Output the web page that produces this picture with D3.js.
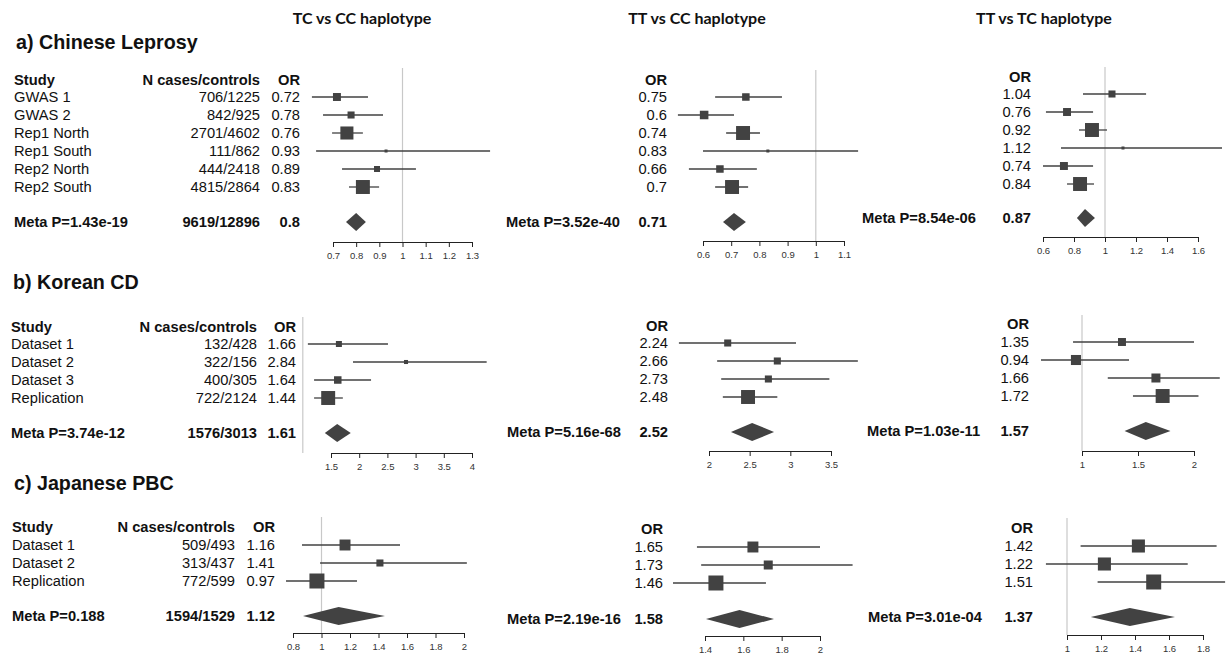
<!DOCTYPE html>
<html>
<head>
<meta charset="utf-8">
<script src="https://cdn.jsdelivr.net/npm/d3@7"></script>
<style>
  body { margin: 0; background: #fff; }
  svg text { font-family: "Liberation Sans", Arial, sans-serif; fill: #111; }
  .col-title { font-family: Lato, "Open Sans", sans-serif; font-weight: bold; font-size: 16px; }
  .sec-title { font-weight: bold; font-size: 19.7px; }
  .tbl { font-size: 14.7px; }
  .bold { font-weight: bold; }
  .axis text { font-family: "Liberation Sans", Arial, sans-serif; font-size: 9.5px; fill: #333; }
  .axis path, .axis line { stroke: #222; }
</style>
</head>
<body>
<div id="chart"></div>
<script>
// Forest plots: three cohorts x three haplotype comparisons
const comparisons = ['TC vs CC haplotype', 'TT vs CC haplotype', 'TT vs TC haplotype'];

// a) Chinese leprosy
const leprosyStudies = ['GWAS 1', 'GWAS 2', 'Rep1 North', 'Rep1 South', 'Rep2 North', 'Rep2 South'];
const leprosyN = ['706/1225', '842/925', '2701/4602', '111/862', '444/2418', '4815/2864'];
const leprosyMetaN = '9619/12896';
const leprosyOR = [['0.72', '0.78', '0.76', '0.93', '0.89', '0.83'],
                   ['0.75', '0.6', '0.74', '0.83', '0.66', '0.7'],
                   ['1.04', '0.76', '0.92', '1.12', '0.74', '0.84']];
const leprosyEst = [[0.717, 0.778, 0.760, 0.929, 0.890, 0.829],
                    [0.752, 0.604, 0.742, 0.830, 0.660, 0.703],
                    [1.045, 0.755, 0.916, 1.116, 0.735, 0.839]];
const leprosyLo = [[0.609, 0.657, 0.696, 0.627, 0.739, 0.769],
                   [0.643, 0.511, 0.682, 0.600, 0.550, 0.643],
                   [0.858, 0.619, 0.832, 0.716, 0.600, 0.755]];
const leprosyHi = [[0.851, 0.916, 0.829, 1.378, 1.058, 0.899],
                   [0.880, 0.710, 0.802, 1.150, 0.791, 0.760],
                   [1.265, 0.923, 1.013, 1.755, 0.923, 0.929]];
const leprosyWeight = [[0.53, 0.47, 0.87, 0.2, 0.4, 0.93],
                       [0.5, 0.57, 0.93, 0.2, 0.5, 0.93],
                       [0.47, 0.53, 0.93, 0.2, 0.53, 0.93]];
const leprosyMetaP = ['1.43e-19', '3.52e-40', '8.54e-06'];
const leprosyMetaOR = ['0.8', '0.71', '0.87'];
const leprosyMetaEst = [0.80, 0.71, 0.871];
const leprosyMetaLo = [0.756, 0.671, 0.819];
const leprosyMetaHi = [0.842, 0.752, 0.935];
const leprosyTicks = [[0.7, 0.8, 0.9, 1, 1.1, 1.2, 1.3], [0.6, 0.7, 0.8, 0.9, 1, 1.1], [0.6, 0.8, 1, 1.2, 1.4, 1.6]];

// b) Korean CD
const crohnStudies = ['Dataset 1', 'Dataset 2', 'Dataset 3', 'Replication'];
const crohnN = ['132/428', '322/156', '400/305', '722/2124'];
const crohnMetaN = '1576/3013';
const crohnOR = [['1.66', '2.84', '1.64', '1.44'],
                 ['2.24', '2.66', '2.73', '2.48'],
                 ['1.35', '0.94', '1.66', '1.72']];
const crohnEst = [[1.64, 2.83, 1.62, 1.45], [2.23, 2.84, 2.73, 2.48], [1.357, 0.946, 1.66, 1.72]];
const crohnLo = [[1.09, 1.89, 1.20, 1.20], [1.63, 2.10, 2.15, 2.17], [0.92, 0.634, 1.23, 1.455]];
const crohnHi = [[2.51, 4.26, 2.21, 1.71], [3.07, 3.83, 3.48, 2.84], [2.0, 1.42, 2.23, 2.04]];
const crohnWeight = [[0.4, 0.27, 0.5, 0.93], [0.47, 0.47, 0.47, 0.93], [0.53, 0.67, 0.6, 0.93]];
const crohnMetaP = ['3.74e-12', '5.16e-68', '1.03e-11'];
const crohnMetaOR = ['1.61', '2.52', '1.57'];
const crohnMetaEst = [1.61, 2.53, 1.57];
const crohnMetaLo = [1.39, 2.27, 1.38];
const crohnMetaHi = [1.85, 2.80, 1.79];
const crohnTicks = [[1.5, 2, 2.5, 3, 3.5, 4], [2, 2.5, 3, 3.5], [1, 1.5, 2]];

// c) Japanese PBC
const pbcStudies = ['Dataset 1', 'Dataset 2', 'Replication'];
const pbcN = ['509/493', '313/437', '772/599'];
const pbcMetaN = '1594/1529';
const pbcOR = [['1.16', '1.41', '0.97'], ['1.65', '1.73', '1.46'], ['1.42', '1.22', '1.51']];
const pbcEst = [[1.165, 1.41, 0.968], [1.65, 1.73, 1.457], [1.42, 1.22, 1.51]];
const pbcLo = [[0.863, 0.99, 0.751], [1.358, 1.38, 1.233], [1.08, 0.876, 1.18]];
const pbcHi = [[1.551, 2.02, 1.249], [2.0, 2.17, 1.718], [1.88, 1.71, 1.93]];
const pbcWeight = [[0.73, 0.47, 1.0], [0.73, 0.6, 1.0], [0.87, 0.87, 1.0]];
const pbcMetaP = ['0.188', '2.19e-16', '3.01e-04'];
const pbcMetaOR = ['1.12', '1.58', '1.37'];
const pbcMetaEst = [1.12, 1.58, 1.37];
const pbcMetaLo = [0.87, 1.405, 1.14];
const pbcMetaHi = [1.445, 1.76, 1.635];
const pbcTicks = [[0.8, 1, 1.2, 1.4, 1.6, 1.8, 2], [1.4, 1.6, 1.8, 2], [1, 1.2, 1.4, 1.6, 1.8]];

// Layout (pixel positions of each block)
const W = 1226, H = 656;
const rowStep = 18;
const markColor = '#424242';
const titleX = [362, 697, 1044];

const sections = [
    {
        title: 'a) Chinese Leprosy', titleY: 49, studyX: 14, nRight: 260,
        orRight: [300, 667, 1031], metaLeft: [14, 506, 862],
        studies: leprosyStudies, n: leprosyN, metaN: leprosyMetaN, or: leprosyOR,
        est: leprosyEst, lo: leprosyLo, hi: leprosyHi, weight: leprosyWeight,
        metaP: leprosyMetaP, metaOR: leprosyMetaOR, metaEst: leprosyMetaEst,
        metaLo: leprosyMetaLo, metaHi: leprosyMetaHi, ticks: leprosyTicks,
        cols: [
            { range: [333, 472], header: 80, row0: 97, meta: 222, axis: 242, refTop: 68 },
            { range: [703, 844], header: 80, row0: 97, meta: 222, axis: 241, refTop: 70 },
            { range: [1043, 1198], header: 77, row0: 94, meta: 218, axis: 237, refTop: 67 }
        ]
    },
    {
        title: 'b) Korean CD', titleY: 289, studyX: 11, nRight: 257,
        orRight: [296, 668, 1029], metaLeft: [11, 507, 867],
        studies: crohnStudies, n: crohnN, metaN: crohnMetaN, or: crohnOR,
        est: crohnEst, lo: crohnLo, hi: crohnHi, weight: crohnWeight,
        metaP: crohnMetaP, metaOR: crohnMetaOR, metaEst: crohnMetaEst,
        metaLo: crohnMetaLo, metaHi: crohnMetaHi, ticks: crohnTicks,
        cols: [
            { range: [331, 472], header: 327, row0: 344, meta: 433, axis: 453, refTop: 317 },
            { range: [709, 831], header: 326, row0: 343, meta: 432, axis: 451, refTop: null },
            { range: [1082, 1194], header: 324, row0: 342, meta: 431, axis: 451, refTop: 315 }
        ]
    },
    {
        title: 'c) Japanese PBC', titleY: 490, studyX: 12, nRight: 235,
        orRight: [275, 663, 1033], metaLeft: [12, 507, 868],
        studies: pbcStudies, n: pbcN, metaN: pbcMetaN, or: pbcOR,
        est: pbcEst, lo: pbcLo, hi: pbcHi, weight: pbcWeight,
        metaP: pbcMetaP, metaOR: pbcMetaOR, metaEst: pbcMetaEst,
        metaLo: pbcMetaLo, metaHi: pbcMetaHi, ticks: pbcTicks,
        cols: [
            { range: [293, 464], header: 527, row0: 545, meta: 616, axis: 633, refTop: 517 },
            { range: [705, 820], header: 529, row0: 547, meta: 619, axis: 636, refTop: null },
            { range: [1067, 1203], header: 528, row0: 546, meta: 617, axis: 635, refTop: 518 }
        ]
    }
];

const boxSize = d3.scaleLinear().domain([0, 1]).range([0, 15]);

const svg = d3.select('#chart').append('svg')
    .attr('width', W)
    .attr('height', H);

// Column titles
svg.selectAll('text.col-title')
    .data(comparisons)
    .enter()
    .append('text')
    .attr('class', 'col-title')
    .attr('x', (d, i) => titleX[i])
    .attr('y', 24)
    .attr('text-anchor', 'middle')
    .text(d => d);

sections.forEach(sec => {
    const g = svg.append('g');

    g.append('text')
        .attr('class', 'sec-title')
        .attr('x', sec.studyX + 2)
        .attr('y', sec.titleY)
        .text(sec.title);

    // Left table: study names and sample sizes
    const c0 = sec.cols[0];
    g.append('text').attr('class', 'tbl bold').attr('x', sec.studyX).attr('y', c0.header + 5).text('Study');
    g.append('text').attr('class', 'tbl bold').attr('x', sec.nRight).attr('y', c0.header + 5)
        .attr('text-anchor', 'end').text('N cases/controls');

    sec.studies.forEach((s, i) => {
        const y = c0.row0 + i * rowStep + 5;
        g.append('text').attr('class', 'tbl').attr('x', sec.studyX).attr('y', y).text(s);
        g.append('text').attr('class', 'tbl').attr('x', sec.nRight).attr('y', y)
            .attr('text-anchor', 'end').text(sec.n[i]);
    });
    g.append('text').attr('class', 'tbl bold').attr('x', sec.nRight).attr('y', c0.meta + 5)
        .attr('text-anchor', 'end').text(sec.metaN);

    sec.cols.forEach((col, c) => {
        const x = d3.scaleLinear()
            .domain(d3.extent(sec.ticks[c]))
            .range(col.range);
        const rowY = i => col.row0 + i * rowStep;

        // reference line at OR = 1
        if (col.refTop !== null) {
            g.append('line')
                .attr('x1', x(1)).attr('x2', x(1))
                .attr('y1', col.refTop).attr('y2', col.axis)
                .attr('stroke', '#c8c8c8')
                .attr('stroke-width', 1.2);
        }

        // OR column
        g.append('text').attr('class', 'tbl bold').attr('x', sec.orRight[c]).attr('y', col.header + 5)
            .attr('text-anchor', 'end').text('OR');
        sec.or[c].forEach((v, i) => {
            g.append('text').attr('class', 'tbl').attr('x', sec.orRight[c]).attr('y', rowY(i) + 5)
                .attr('text-anchor', 'end').text(v);
        });
        g.append('text').attr('class', 'tbl bold').attr('x', sec.orRight[c]).attr('y', col.meta + 5)
            .attr('text-anchor', 'end').text(sec.metaOR[c]);
        g.append('text').attr('class', 'tbl bold').attr('x', sec.metaLeft[c]).attr('y', col.meta + 5)
            .text('Meta P=' + sec.metaP[c]);

        // confidence intervals
        const rows = sec.est[c].map((e, i) => ({
            est: e, lo: sec.lo[c][i], hi: sec.hi[c][i], w: sec.weight[c][i], y: rowY(i)
        }));

        g.selectAll(null)
            .data(rows)
            .enter()
            .append('line')
            .attr('x1', d => x(d.lo))
            .attr('x2', d => x(d.hi))
            .attr('y1', d => d.y)
            .attr('y2', d => d.y)
            .attr('stroke', markColor)
            .attr('stroke-width', 1.3);

        g.selectAll(null)
            .data(rows)
            .enter()
            .append('rect')
            .attr('x', d => x(d.est) - boxSize(d.w) / 2)
            .attr('y', d => d.y - boxSize(d.w) / 2)
            .attr('width', d => boxSize(d.w))
            .attr('height', d => boxSize(d.w))
            .attr('fill', markColor);

        // summary diamond
        const my = col.meta;
        g.append('polygon')
            .attr('points', [
                [x(sec.metaLo[c]), my],
                [x(sec.metaEst[c]), my - 9],
                [x(sec.metaHi[c]), my],
                [x(sec.metaEst[c]), my + 9]
            ].map(p => p.join(',')).join(' '))
            .attr('fill', markColor);

        // axis
        g.append('g')
            .attr('class', 'axis')
            .attr('transform', `translate(0, ${col.axis})`)
            .call(d3.axisBottom(x)
                .tickValues(sec.ticks[c])
                .tickSize(5)
                .tickSizeOuter(0)
                .tickPadding(5)
                .tickFormat(d3.format('~g')));
    });
});
</script>
</body>
</html>
